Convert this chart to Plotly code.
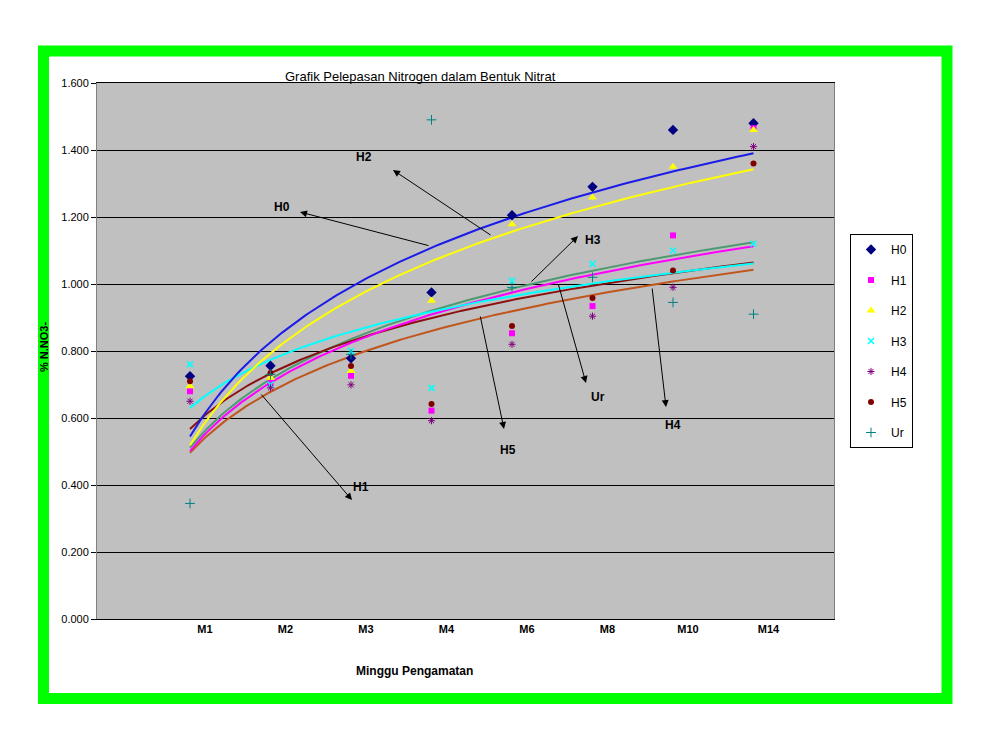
import numpy as np
import plotly.graph_objects as go

# ---------------- data ----------------
categories = ["M1", "M2", "M3", "M4", "M6", "M8", "M10", "M14"]
H0 = [0.725, 0.756, 0.778, 0.975, 1.205, 1.290, 1.460, 1.480]
H1 = [0.680, 0.705, 0.726, 0.622, 0.853, 0.934, 1.145, 1.465]
H2 = [0.695, 0.720, 0.740, 0.950, 1.178, 1.258, 1.350, 1.460]
H3 = [0.760, 0.700, 0.800, 0.690, 1.010, 1.060, 1.100, 1.120]
H4 = [0.650, 0.690, 0.699, 0.592, 0.820, 0.904, 0.990, 1.410]
H5 = [0.710, 0.734, 0.755, 0.642, 0.875, 0.958, 1.040, 1.360]
Ur = [0.345, 0.730, 0.790, 1.490, 0.990, 1.020, 0.945, 0.910]
y_ticks = [0.0, 0.2, 0.4, 0.6, 0.8, 1.0, 1.2, 1.4, 1.6]

series_names = ["H0", "H1", "H2", "H3", "H4", "H5", "Ur"]
series_vals = [H0, H1, H2, H3, H4, H5, Ur]

# ---------------- styles ----------------
marker_styles = {
    "H0": dict(symbol="diamond", size=8, color="#000080"),
    "H1": dict(symbol="square", size=6, color="#FF00FF"),
    "H2": dict(symbol="triangle-up", size=8, color="#FFFF00"),
    "H3": dict(symbol="x-thin-open", size=6, color="#00FFFF", line=dict(width=1.5, color="#00FFFF")),
    "H4": dict(symbol="asterisk-open", size=6, color="#800080", line=dict(width=1, color="#800080")),
    "H5": dict(symbol="circle", size=6, color="#800000"),
    "Ur": dict(symbol="cross-thin-open", size=7, color="#008080", line=dict(width=1, color="#008080")),
}
trend_colors = {
    "H0": "#1C1CE8", "H1": "#FF00FF", "H2": "#FFFF00", "H3": "#00FFFF",
    "H4": "#C0561E", "H5": "#8B1010", "Ur": "#4E9A72",
}

# layout geometry (pixels)
W, H = 993, 743
L, R, T, B = 97, 834, 83, 619
X1PX, XSTEP = 190, 80.5


def pxp(x):
    return (x - L) / (R - L)


def pyp(y):
    return (B - y) / (B - T)


def dx(x):
    return 1 + (x - X1PX) / XSTEP


def dy(y):
    return (B - y) / (B - T) * 1.6


xi = np.arange(1, len(categories) + 1)
fig = go.Figure()

# logarithmic trendlines
xs = np.linspace(1, len(categories), 200)
for name in ["Ur", "H4", "H5", "H1", "H3", "H2", "H0"]:
    vals = series_vals[series_names.index(name)]
    a, b = np.polyfit(np.log(xi), vals, 1)
    fig.add_trace(go.Scatter(x=xs, y=a * np.log(xs) + b, mode="lines",
                             line=dict(color=trend_colors[name], width=2),
                             showlegend=False, hoverinfo="skip"))

# markers
for name, vals in zip(series_names, series_vals):
    fig.add_trace(go.Scatter(x=xi, y=vals, mode="markers", name=name,
                             legendgroup=name, marker=marker_styles[name]))

# annotations: arrows (tail on curve -> head near label) and labels
arrows = [
    ((430, 246), (300, 212)),  # H0
    ((492, 236), (393, 170)),  # H2
    ((530, 283), (578, 236)),  # H3
    ((260, 393), (352, 500)),  # H1
    ((480, 315), (504, 429)),  # H5
    ((558, 283), (586, 383)),  # Ur
    ((652, 287), (666, 407)),  # H4
]
labels = [
    ("H0", 282, 207), ("H2", 364, 157), ("H3", 593, 240), ("H1", 361, 487),
    ("H5", 508, 450), ("Ur", 598, 397), ("H4", 673, 425),
]
annotations = []
for (tx, ty), (hx, hy) in arrows:
    annotations.append(dict(x=dx(hx), y=dy(hy), ax=dx(tx), ay=dy(ty), xref="x", yref="y",
                            axref="x", ayref="y", text="", showarrow=True, arrowhead=2,
                            arrowsize=1.4, arrowwidth=1, arrowcolor="#000000"))
for t, x, y in labels:
    annotations.append(dict(x=dx(x), y=dy(y), xref="x", yref="y", text="<b>%s</b>" % t,
                            showarrow=False, font=dict(family="Arial", size=12, color="#000000")))

# titles
annotations.append(dict(x=pxp(420), y=pyp(67), xref="paper", yref="paper",
                        text="Grafik Pelepasan Nitrogen dalam Bentuk Nitrat", showarrow=False,
                        font=dict(family="Arial", size=13, color="#000000")))
annotations.append(dict(x=pxp(414), y=pyp(680), xref="paper", yref="paper",
                        text="<b>Minggu Pengamatan</b>", showarrow=False,
                        font=dict(family="Arial", size=12, color="#000000")))
annotations.append(dict(x=pxp(52), y=pyp(347), xref="paper", yref="paper",
                        xanchor="right", text="<b>% N.NO3-</b>", textangle=-90, showarrow=False,
                        font=dict(family="Arial", size=11, color="#000000")))

shapes = [dict(type="rect", xref="paper", yref="paper", x0=pxp(43.5), x1=pxp(947),
               y0=pyp(51), y1=pyp(698.5), line=dict(color="#00FF00", width=11),
               fillcolor="rgba(0,0,0,0)", layer="below")]

label_offset = 15 / XSTEP
fig.update_layout(
    width=W, height=H,
    margin=dict(l=L, r=W - R, t=T, b=H - B, pad=0),
    paper_bgcolor="#FFFFFF", plot_bgcolor="#C0C0C0",
    font=dict(family="Arial", size=11, color="#000000"),
    showlegend=True,
    legend=dict(x=pxp(850), y=pyp(234), xanchor="left", yanchor="top",
                bgcolor="#FFFFFF", bordercolor="#000000", borderwidth=1,
                font=dict(family="Arial", size=12, color="#000000"),
                tracegroupgap=11.5, itemwidth=30),
    annotations=annotations, shapes=shapes,
    xaxis=dict(range=[dx(L), dx(R)], tickvals=list(xi + label_offset), ticktext=categories,
               tickfont=dict(family="Arial", size=11, color="#000000", weight="bold"),
               showgrid=False, zeroline=False, showline=True, linecolor="#000000",
               linewidth=1, mirror=True, ticks=""),
    yaxis=dict(range=[0, 1.6], tickvals=y_ticks, tickformat=".3f",
               tickfont=dict(family="Arial", size=11, color="#000000"),
               showgrid=True, gridcolor="#000000", gridwidth=1, zeroline=False,
               showline=True, linecolor="#808080", linewidth=1, mirror=True,
               ticks="outside", ticklen=5, tickcolor="#000000"),
)

fig.write_html("out.html")
